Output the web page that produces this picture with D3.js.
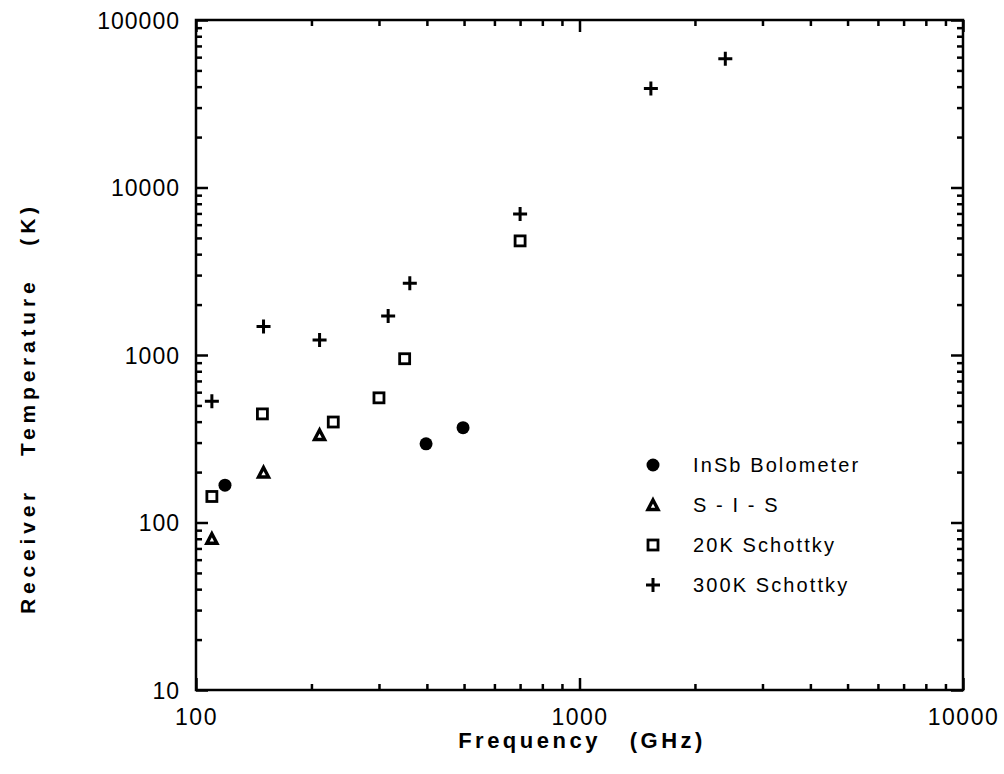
<!DOCTYPE html>
<html>
<head>
<meta charset="utf-8">
<script src="https://cdn.jsdelivr.net/npm/d3@7"></script>
<style>
  body { margin: 0; background: #fff; }
  svg text { font-family: "Liberation Sans", Arial, Helvetica, sans-serif; fill: #000; }
</style>
</head>
<body>
<svg id="chart" width="1004" height="774"></svg>
<script>
// data (frequency GHz, receiver temperature K)
var bolometerFreq = [119, 398, 497];
var bolometerTemp = [167, 295, 368];

var sisFreq = [110, 150, 210];
var sisTemp = [80, 199, 333];

var schottky20Freq = [110, 149, 228, 300, 350, 700];
var schottky20Temp = [143, 445, 398, 555, 950, 4800];

var schottky300Freq = [110, 150, 210, 317, 361, 700, 1535, 2400];
var schottky300Temp = [530, 1480, 1230, 1710, 2680, 6950, 39000, 58800];

var seriesNames = ["InSb Bolometer", "S - I - S", "20K Schottky", "300K Schottky"];
var seriesShapes = ["circle", "triangle", "square", "plus"];

var xMajor = [100, 1000, 10000];
var yMajor = [10, 100, 1000, 10000, 100000];

var svg = d3.select("#chart");
var margin = {left: 196, right: 963, top: 20, bottom: 690};

var x = d3.scaleLog().domain([100, 10000]).range([margin.left, margin.right]);
var y = d3.scaleLog().domain([10, 100000]).range([margin.bottom, margin.top]);

// minor ticks 2..9 of every decade
function minorTicks(scale){
    var d = scale.domain(), out = [];
    for (var p = Math.log10(d[0]); p < Math.log10(d[1]); p++) {
        for (var k = 2; k <= 9; k++) out.push(k * Math.pow(10, p));
    }
    return out;
}

function styleAxis(g){
    g.select(".domain").remove();
    g.selectAll("line").attr("stroke", "#000").attr("stroke-width", 2.5);
}

// bottom
svg.append("g").attr("transform", "translate(0," + margin.bottom + ")")
    .call(d3.axisBottom(x).tickValues(minorTicks(x)).tickSize(-6).tickFormat(""))
    .call(styleAxis);
var xb = svg.append("g").attr("transform", "translate(0," + margin.bottom + ")")
    .call(d3.axisBottom(x).tickValues(xMajor).tickSize(-12).tickFormat(d3.format("d")))
    .call(styleAxis);
xb.selectAll("text")
    .attr("y", 35).attr("dy", 0)
    .style("font-size", "23px")
    .style("letter-spacing", "1.5px");
// top
svg.append("g").attr("transform", "translate(0," + margin.top + ")")
    .call(d3.axisTop(x).tickValues(minorTicks(x)).tickSize(-6).tickFormat(""))
    .call(styleAxis);
svg.append("g").attr("transform", "translate(0," + margin.top + ")")
    .call(d3.axisTop(x).tickValues(xMajor).tickSize(-12).tickFormat(""))
    .call(styleAxis);
// left
svg.append("g").attr("transform", "translate(" + margin.left + ",0)")
    .call(d3.axisLeft(y).tickValues(minorTicks(y)).tickSize(-6).tickFormat(""))
    .call(styleAxis);
var yl = svg.append("g").attr("transform", "translate(" + margin.left + ",0)")
    .call(d3.axisLeft(y).tickValues(yMajor).tickSize(-12).tickFormat(d3.format("d")))
    .call(styleAxis);
yl.selectAll("text")
    .attr("x", -16).attr("dy", "0.36em")
    .style("font-size", "23px")
    .style("letter-spacing", "1px");
// right
svg.append("g").attr("transform", "translate(" + margin.right + ",0)")
    .call(d3.axisRight(y).tickValues(minorTicks(y)).tickSize(-6).tickFormat(""))
    .call(styleAxis);
svg.append("g").attr("transform", "translate(" + margin.right + ",0)")
    .call(d3.axisRight(y).tickValues(yMajor).tickSize(-12).tickFormat(""))
    .call(styleAxis);

// frame
svg.append("rect")
    .attr("x", margin.left).attr("y", margin.top)
    .attr("width", margin.right - margin.left)
    .attr("height", margin.bottom - margin.top)
    .attr("fill", "none").attr("stroke", "#000").attr("stroke-width", 2.5);

// axis titles
svg.append("text")
    .attr("x", 582).attr("y", 748)
    .attr("text-anchor", "middle")
    .style("font-size", "22px").style("font-weight", "bold")
    .style("letter-spacing", "3.5px").style("white-space", "pre")
    .text("Frequency   (GHz)");

svg.append("text")
    .attr("transform", "translate(35,408) rotate(-90)")
    .attr("text-anchor", "middle")
    .style("font-size", "21px").style("font-weight", "bold")
    .style("letter-spacing", "4.8px").style("white-space", "pre")
    .text("Receiver   Temperature   (K)");

// markers
function drawMarker(g, shape){
    if (shape === "circle") {
        g.append("circle").attr("r", 6.5).attr("fill", "#000");
    } else if (shape === "triangle") {
        g.append("path").attr("d", "M0,-5L5,4.5L-5,4.5Z")
            .attr("fill", "none").attr("stroke", "#000")
            .attr("stroke-width", 3.4).attr("stroke-linejoin", "miter");
    } else if (shape === "square") {
        g.append("rect").attr("x", -5).attr("y", -5).attr("width", 10).attr("height", 10)
            .attr("fill", "none").attr("stroke", "#000").attr("stroke-width", 2.8);
    } else {
        g.append("path").attr("d", "M-7,0H7M0,-7V7")
            .attr("stroke", "#000").attr("stroke-width", 3);
    }
}

var series = [
    {freq: bolometerFreq, temp: bolometerTemp},
    {freq: sisFreq, temp: sisTemp},
    {freq: schottky20Freq, temp: schottky20Temp},
    {freq: schottky300Freq, temp: schottky300Temp}
];

series.forEach(function(s, i){
    var pts = s.freq.map(function(f, j){ return {f: f, t: s.temp[j]}; });
    svg.append("g").selectAll("g")
        .data(pts)
        .enter().append("g")
        .attr("transform", function(d){ return "translate(" + x(d.f) + "," + y(d.t) + ")"; })
        .each(function(){ drawMarker(d3.select(this), seriesShapes[i]); });
});

// legend
var legend = svg.append("g").attr("transform", "translate(653,465)");
seriesNames.forEach(function(name, i){
    var row = legend.append("g").attr("transform", "translate(0," + (i * 40) + ")");
    drawMarker(row.append("g"), seriesShapes[i]);
    row.append("text")
        .attr("x", 40).attr("dy", "0.36em")
        .style("font-size", "20px")
        .style("letter-spacing", "2.1px")
        .text(name);
});
</script>
</body>
</html>
